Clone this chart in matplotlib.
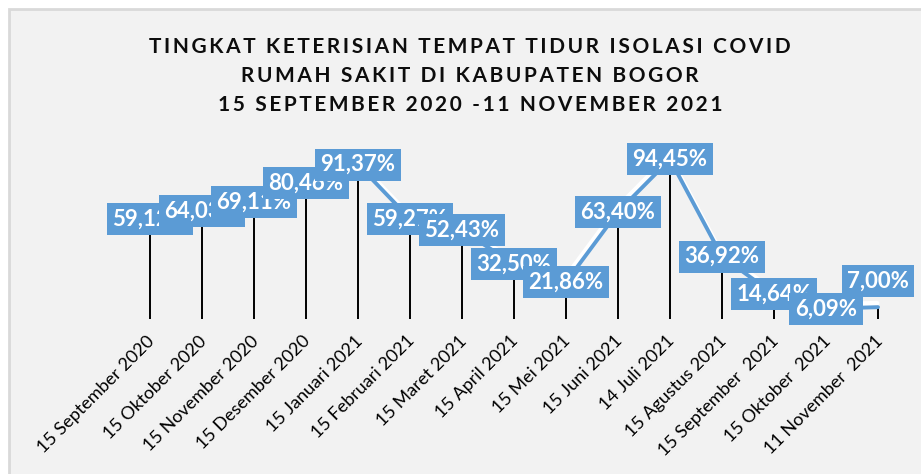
import numpy as np
import matplotlib.pyplot as plt
from matplotlib.patches import Rectangle
from matplotlib.transforms import ScaledTranslation, offset_copy

# data
tanggal = ["15 September 2020", "15 Oktober 2020", "15 November 2020", "15 Desember 2020",
           "15 Januari 2021", "15 Februari 2021", "15 Maret 2021", "15 April 2021",
           "15 Mei 2021", "15 Juni 2021", "14 Juli 2021", "15 Agustus 2021",
           "15 September  2021", "15 Oktober  2021", "11 November  2021"]
persen = [59.12, 64.03, 69.11, 80.46, 91.37, 59.27, 52.43, 32.50,
          21.86, 63.40, 94.45, 36.92, 14.64, 6.09, 7.00]

judul = ["TINGKAT KETERISIAN TEMPAT TIDUR ISOLASI COVID",
         "RUMAH SAKIT DI KABUPATEN BOGOR",
         "15 SEPTEMBER 2020 -11 NOVEMBER 2021"]

# label terakhir digeser manual ke atas (seperti di excel)
geser_label = {14: 15.5}

W, H = 921, 474
fig = plt.figure(figsize=(W / 100, H / 100), dpi=100, facecolor='white')

# latar area chart
fig.patches.append(Rectangle((9 / W, -0.05), 1.1, (H - 9) / H + 0.05, transform=fig.transFigure,
                             facecolor='#f2f2f2', edgecolor='#d9d9d9', linewidth=2, zorder=-5))

ax = fig.add_axes([124 / W, (H - 319) / H, 780 / W, 169 / H])
ax.set_facecolor('none')
x = np.arange(len(persen))

# garis dengan bayangan putih
bayangan = offset_copy(ax.transData, fig=fig, x=-1, y=4, units='dots')
ax.plot(x, persen, color='white', lw=3.4, solid_capstyle='round', transform=bayangan, zorder=2)
ax.plot(x, persen, color='#5b9bd5', lw=2.8, solid_capstyle='round', zorder=3)

# drop lines
ax.vlines(x, 0, persen, color='black', lw=1.4, zorder=1)

for i, v in enumerate(persen):
    y = v + geser_label.get(i, 0)
    ax.text(i, y, f"{v:.2f}%".replace('.', ','), ha='center', va='center',
            fontsize=16, fontweight='bold', color='white', family=['Lato', 'DejaVu Sans'],
            bbox=dict(boxstyle='square,pad=0.25', fc='#5b9bd5', ec='none'), zorder=5 + i)

ax.set_xlim(-0.5, len(persen) - 0.5)
ax.set_ylim(0, 100)
ax.set_yticks([])
ax.set_xticks(x)
ax.set_xticklabels(tanggal, rotation=45, ha='right', va='center', rotation_mode='anchor',
                   fontsize=13, family='Lato', color='black')
ax.tick_params(axis='x', length=0, pad=14)
for lbl in ax.get_xticklabels():
    lbl.set_transform(lbl.get_transform() + ScaledTranslation(2 / 100, 0, fig.dpi_scale_trans))
for s in ax.spines.values():
    s.set_visible(False)

# judul dengan jarak huruf lebar
for k, baris in enumerate(judul):
    teks = '\u2009'.join(baris)
    fig.text(470 / W, (H - 53 - 29 * k) / H, teks, ha='center', va='baseline',
             fontsize=15, fontweight='bold', color='#0d0d0d', family=['Lato', 'DejaVu Sans'])

fig.savefig('out.png', dpi=100, facecolor='white')
